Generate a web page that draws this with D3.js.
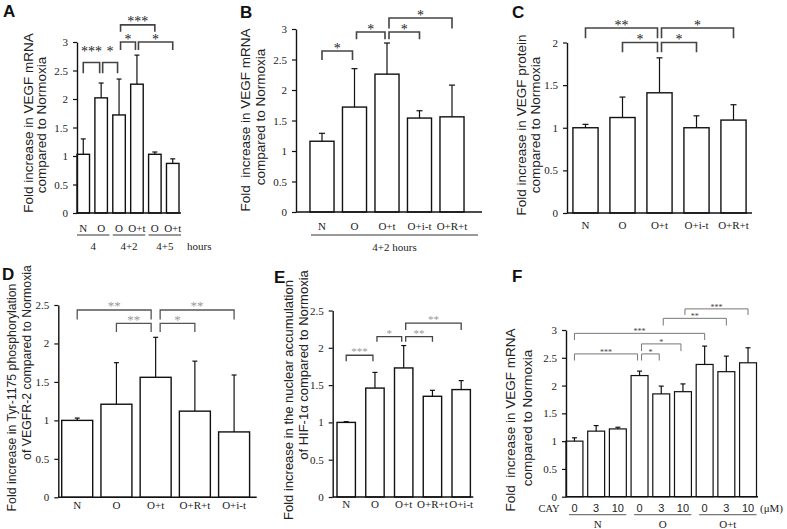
<!DOCTYPE html>
<html><head><meta charset="utf-8">
<script src="https://cdn.jsdelivr.net/npm/d3@7"></script>
<style>
html,body{margin:0;padding:0;background:#fff;}
svg{display:block;}
</style></head><body>
<svg id="chart" width="787" height="529"></svg>
<script>
// ---------- DATA ----------
// Panel A
const aCategories = ["N","O","O","O+t","O","O+t"];
const aValues = [1.03, 2.02, 1.72, 2.26, 1.03, 0.87];
const aErrors = [0.27, 0.26, 0.63, 0.51, 0.04, 0.08];
const aGroups = [["4",0,1],["4+2",2,3],["4+5",4,5]];
const aBrackets = [[0,1,2.64,2.45,"***",2.87],[1,2,2.64,2.45,"*",2.87],[2,3,3.0,2.86,"*"],[2,4,3.3,3.18,"***"],[3,5,3.0,2.86,"*"]];
const aTicks = [0,0.5,1,1.5,2,2.5,3];
const aTitle = ["Fold increase in VEGF mRNA","compared to Normoxia"];
// Panel B
const bCategories = ["N","O","O+t","O+i-t","O+R+t"];
const bValues = [1.16, 1.72, 2.26, 1.54, 1.56];
const bErrors = [0.13, 0.63, 0.51, 0.12, 0.52];
const bGroups = [["4+2 hours",0,4]];
const bBrackets = [[0,1,2.64,2.49,"*"],[1,2,2.95,2.83,"*"],[2,3,2.95,2.83,"*"],[2,4,3.18,3.01,"*"]];
const bTicks = [0,0.5,1,1.5,2,2.5,3];
const bTitle = ["Fold  increase in VEGF mRNA","compared to Normoxia"];
// Panel C
const cCategories = ["N","O","O+t","O+i-t","O+R+t"];
const cValues = [1.0, 1.12, 1.41, 1.0, 1.09];
const cErrors = [0.04, 0.24, 0.41, 0.14, 0.18];
const cBrackets = [[0,2,2.17,2.05,"**"],[1,2,2.0,1.885,"*"],[2,4,2.17,2.05,"*"],[2,3,2.0,1.885,"*"]];
const cTicks = [0,0.5,1,1.5,2];
const cTitle = ["Fold increase in VEGF protein","compared to Normoxia"];
// Panel D
const dCategories = ["N","O","O+t","O+R+t","O+i-t"];
const dValues = [1.0, 1.21, 1.56, 1.12, 0.85];
const dErrors = [0.03, 0.54, 0.52, 0.65, 0.74];
const dBrackets = [[0,2,2.435,2.31,"**"],[1,2,2.26,2.15,"**"],[2,3,2.26,2.15,"*"],[2,4,2.435,2.31,"**"]];
const dTicks = [0,0.5,1,1.5,2,2.5];
const dTitle = ["Fold increase in Tyr-1175 phosphorylation","of VEGFR-2 compared to Normoxia"];
// Panel E
const eCategories = ["N","O","O+t","O+R+t","O+i-t"];
const eValues = [1.0, 1.46, 1.73, 1.35, 1.44];
const eErrors = [0.01, 0.21, 0.30, 0.08, 0.12];
const eBrackets = [[0,1,1.90,1.82,"***"],[1,2,2.15,2.08,"*"],[2,3,2.15,2.08,"**"],[2,4,2.33,2.24,"**"]];
const eTicks = [0,0.5,1,1.5,2,2.5];
const eTitle = ["Fold increase in the nuclear accumulation","of HIF-1α compared to Normoxia"];
// Panel F
const fCategories = ["0","3","10","0","3","10","0","3","10"];
const fValues = [1.0, 1.18, 1.22, 2.18, 1.85, 1.89, 2.38, 2.25, 2.41];
const fErrors = [0.06, 0.10, 0.03, 0.08, 0.14, 0.14, 0.33, 0.28, 0.27];
const fGroups = [["N",0,2],["O",3,5],["O+t",6,8]];
const fBrackets = [[0,3,2.57,2.45,"***"],[0,6,2.94,2.82,"***"],[3,4,2.57,2.45,"*"],[3,5,2.75,2.62,"*"],[4,7,3.21,3.08,"**"],[5,8,3.38,3.27,"***"]];
const fTicks = [0,0.5,1,1.5,2,2.5,3];
const fTitle = ["Fold  increase in VEGF mRNA","compared to Normoxia"];

// ---------- DRAWING ----------
const svg = d3.select("#chart");
svg.append("rect").attr("width",787).attr("height",529).attr("fill","#fff");
const SERIF = "'Liberation Serif','Times New Roman',serif";
const SANS = "'Liberation Sans',Arial,sans-serif";

function drawPanel(p) {
  const g = svg.append("g");
  const n = p.categories.length;
  const x = d3.scaleBand().domain(d3.range(n)).range(p.xRange).paddingInner(p.pi).paddingOuter(p.po);
  const y = d3.scaleLinear().domain([0, p.yMax]).range(p.yRange);
  const bw = x.bandwidth();

  // bars
  g.selectAll("rect.bar").data(p.values).join("rect").attr("class","bar")
    .attr("x",(d,i)=>x(i)).attr("y",d=>y(d)).attr("width",bw).attr("height",d=>y(0)-y(d))
    .attr("fill","#fff").attr("stroke","#111").attr("stroke-width",p.barStroke);
  // error bars
  p.values.forEach((v,i)=>{
    const cx = x(i)+bw/2, top = y(v+p.errors[i]);
    g.append("line").attr("x1",cx).attr("x2",cx).attr("y1",y(v)).attr("y2",top)
      .attr("stroke","#111").attr("stroke-width",1.2);
    g.append("line").attr("x1",cx-p.cap).attr("x2",cx+p.cap).attr("y1",top).attr("y2",top)
      .attr("stroke","#111").attr("stroke-width",1.2);
  });
  // y axis
  const ax = g.append("g").attr("transform",`translate(${p.xRange[0]},0)`)
    .call(d3.axisLeft(y).tickValues(p.ticks).tickSize(4).tickPadding(5).tickSizeOuter(0).tickFormat(d=>String(d)));
  ax.attr("font-family",SERIF).attr("font-size",11);
  ax.select(".domain").attr("stroke","#111").attr("stroke-width",1.4);
  ax.selectAll(".tick line").attr("stroke","#111").attr("stroke-width",1.2);
  ax.selectAll(".tick text").attr("fill","#222").attr("font-family",SERIF).attr("font-size",11)
    .style("font-family",SERIF);
  // x axis line
  g.append("line").attr("x1",p.xRange[0]).attr("x2",p.axisEnd).attr("y1",y(0)).attr("y2",y(0))
    .attr("stroke","#111").attr("stroke-width",1.4);
  // category labels
  g.selectAll("text.cat").data(p.categories).join("text").attr("class","cat")
    .attr("x",(d,i)=>x(i)+bw/2).attr("y",y(0)+p.catOff)
    .attr("text-anchor","middle").attr("dominant-baseline","central")
    .attr("font-family",p.catFont||SERIF).attr("font-size",11).attr("fill","#222").text(d=>d);
  // groups
  if (p.groups) {
    p.groups.forEach(([lab,i,j])=>{
      const gx1 = x(i)+p.grpPad[0], gx2 = x(j)+bw+p.grpPad[1];
      const ly = y(0)+p.grpLineOff;
      g.append("line").attr("x1",gx1).attr("x2",gx2).attr("y1",ly).attr("y2",ly)
        .attr("stroke","#777").attr("stroke-width",p.grpStroke);
      g.append("text").attr("x",(gx1+gx2)/2).attr("y",y(0)+p.grpTextOff)
        .attr("text-anchor","middle").attr("dominant-baseline","central")
        .attr("font-family",SERIF).attr("font-size",11).attr("fill","#222").text(lab);
    });
  }
  // significance brackets
  p.brackets.forEach(b=>{
    const [i,j,top,bot,label,labelAt] = b;
    const leftShared = p.brackets.some(o=>o!==b && o[1]===i);
    const rightShared = p.brackets.some(o=>o!==b && o[0]===j);
    const x1 = x(i)+bw/2 + (leftShared ? p.gap : 0);
    const x2 = x(j)+bw/2 - (rightShared ? p.gap : 0);
    g.append("path").attr("d",`M${x1},${y(bot)}V${y(top)}H${x2}V${y(bot)}`)
      .attr("fill","none").attr("stroke",p.brColor).attr("stroke-width",p.brWidth);
    const cy = labelAt!==undefined ? y(labelAt) : y(top)-p.starOff;
    g.append("text").attr("x",(x1+x2)/2).attr("y",cy+0.47*p.starSize)
      .attr("text-anchor","middle").attr("font-family",SERIF).attr("font-size",p.starSize)
      .attr("fill",p.starColor).text(label);
  });
  // axis title
  p.title.forEach((t,k)=>{
    const [tx,ty] = p.titlePos[k];
    g.append("text").attr("transform",`translate(${tx},${ty}) rotate(-90)`)
      .attr("text-anchor","middle").attr("dominant-baseline","central")
      .attr("font-family",SANS).attr("font-size",p.titleSize).attr("fill","#222")
      .style("white-space","pre").text(t);
  });
  // panel letter
  g.append("text").attr("x",p.letterPos[0]).attr("y",p.letterPos[1])
    .attr("font-family",SANS).attr("font-weight","bold").attr("font-size",17).attr("fill","#111").text(p.letter);
  return {g,x,y,bw};
}

drawPanel({letter:"A", letterPos:[3,17], categories:aCategories, values:aValues, errors:aErrors, groups:aGroups,
  brackets:aBrackets, ticks:aTicks, title:aTitle, yMax:3,
  xRange:[77,179], pi:0.3, po:0, axisEnd:181, yRange:[213,42],
  barStroke:1.4, cap:2.5, catOff:15, grpPad:[0,2], grpLineOff:22, grpTextOff:33, grpStroke:1.6,
  gap:1.5, brColor:"#444", brWidth:1.6, starSize:14, starColor:"#222", starOff:5,
  titleSize:13.5, titlePos:[[28.5,123],[41,125]]});
svg.append("text").attr("x",187).attr("y",246).attr("dominant-baseline","central")
  .attr("font-family",SERIF).attr("font-size",11).attr("fill","#222").text("hours");

drawPanel({letter:"B", letterPos:[240,18], categories:bCategories, values:bValues, errors:bErrors, groups:bGroups,
  brackets:bBrackets, ticks:bTicks, title:bTitle, yMax:3,
  xRange:[296,478], pi:0.26, po:0.43, axisEnd:482, yRange:[212,29],
  barStroke:1.4, cap:3, catOff:14, grpPad:[1,14], grpLineOff:23, grpTextOff:35, grpStroke:1.4,
  gap:2, brColor:"#444", brWidth:1.6, starSize:14, starColor:"#222", starOff:5,
  titleSize:13.5, titlePos:[[245,120],[260,117]]});

drawPanel({letter:"C", letterPos:[512,18], categories:cCategories, values:cValues, errors:cErrors,
  brackets:cBrackets, ticks:cTicks, title:cTitle, yMax:2,
  xRange:[567,752], pi:0.32, po:0.16, axisEnd:752, yRange:[213,42.5],
  barStroke:1.4, cap:3, catOff:12,
  gap:2, brColor:"#444", brWidth:1.6, starSize:14, starColor:"#222", starOff:5,
  titleSize:13.5, titlePos:[[521.5,125],[535,125]]});

drawPanel({letter:"D", letterPos:[2,280], categories:dCategories, values:dValues, errors:dErrors,
  brackets:dBrackets, ticks:dTicks, title:dTitle, yMax:2.5,
  xRange:[58.3,253], pi:0.21, po:0.087, axisEnd:256.7, yRange:[497.3,305],
  barStroke:1.4, cap:2.5, catOff:8,
  gap:4.5, brColor:"#555", brWidth:1.3, starSize:13, starColor:"#999", starOff:6,
  titleSize:12.3, titlePos:[[12,397.5],[27,362.5]]});

drawPanel({letter:"E", letterPos:[274,283], categories:eCategories, values:eValues, errors:eErrors,
  brackets:eBrackets, ticks:eTicks, title:eTitle, yMax:2.5,
  xRange:[332.7,474.7], pi:0.36, po:0.15, axisEnd:473.3, yRange:[497,310.5],
  barStroke:1.4, cap:2.5, catOff:7,
  gap:2, brColor:"#444", brWidth:1.3, starSize:11, starColor:"#999", starOff:5,
  titleSize:13, titlePos:[[288.5,400],[303,365]]});

drawPanel({letter:"F", letterPos:[512,282], categories:fCategories, values:fValues, errors:fErrors, groups:fGroups,
  brackets:fBrackets, ticks:fTicks, title:fTitle, yMax:3, catFont:SANS,
  xRange:[566,756.5], pi:0.22, po:0, axisEnd:758, yRange:[496.7,330],
  barStroke:1.2, cap:2.5, catOff:11, grpPad:[3,0], grpLineOff:18, grpTextOff:27, grpStroke:1.2,
  gap:2, brColor:"#777", brWidth:1, starSize:8, starColor:"#444", starOff:3,
  titleSize:13.5, titlePos:[[510,420],[527,418]]});
svg.append("text").attr("x",549).attr("y",508).attr("text-anchor","middle").attr("dominant-baseline","central")
  .attr("font-family",SERIF).attr("font-size",10.5).attr("fill","#222").text("CAY");
svg.append("text").attr("x",760).attr("y",508).attr("dominant-baseline","central")
  .attr("font-family",SERIF).attr("font-size",11).attr("fill","#222").text("(μM)");
</script>
</body></html>
